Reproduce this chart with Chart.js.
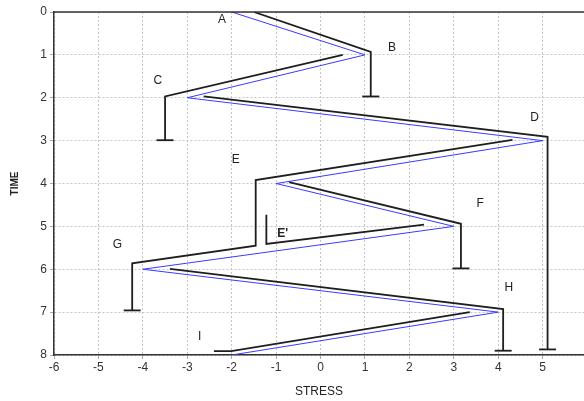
<!DOCTYPE html>
<html>
<head>
<meta charset="utf-8">
<script src="https://cdn.jsdelivr.net/npm/chart.js@4/dist/chart.umd.min.js"></script>
<style>
html,body{margin:0;padding:0;background:#fff;overflow:hidden;}
#wrap{width:584px;height:401px;position:relative;}
</style>
</head>
<body>
<div id="wrap"><canvas id="c" width="584" height="401"></canvas></div>
<script>
// ---- data (STRESS, TIME) ----
const blueStress = [-2, 1, -3, 5, -1, 3, -4, 4, -2];
const blueTime   = [ 0, 1,  2, 3,  4, 5,  6, 7,  8];

const seg1Stress = [-1.5, 1.13, 1.13];           const seg1Time = [0, 0.93, 1.97];
const seg2Stress = [0.5, -3.5, -3.5];            const seg2Time = [1.0, 1.97, 2.99];
const seg3Stress = [-2.63, 5.11, 5.11];          const seg3Time = [1.97, 2.91, 7.87];
const seg4Stress = [4.32, -1.46, -1.46, -4.24, -4.24]; const seg4Time = [2.98, 3.92, 5.45, 5.86, 6.96];
const seg5Stress = [-0.71, 3.16, 3.16];          const seg5Time = [3.97, 4.94, 5.98];
const seg6Stress = [2.33, -1.22, -1.22];         const seg6Time = [4.96, 5.41, 4.73];
const seg7Stress = [-3.39, 4.11, 4.11];          const seg7Time = [5.99, 6.93, 7.9];
const seg8Stress = [3.36, -2.01, -2.4];          const seg8Time = [7.0, 7.91, 7.91];

const tEnded = [true, true, true, true, true, false, true, false]; // segments ending with a T bar

const labelNames  = ['A', 'B', 'C', 'D', 'E', "E'", 'F', 'G', 'H', 'I'];
const labelStress = [-2.22, 1.61, -3.66, 4.82, -1.91, -0.85, 3.59, -4.57, 4.24, -2.72];
const labelTime   = [0.19, 0.84, 1.61, 2.47, 3.45, 5.17, 4.48, 5.43, 6.43, 7.58];

const xTicks = [-6, -5, -4, -3, -2, -1, 0, 1, 2, 3, 4, 5];
const yTicks = [0, 1, 2, 3, 4, 5, 6, 7, 8];
const xMin = -6, xMax = 5.93, yMin = 0, yMax = 8;

// ---- build datasets ----
function pts(xs, ys){ return xs.map((x,i)=>({x:x, y:ys[i]})); }
const segs = [
  [seg1Stress, seg1Time],[seg2Stress, seg2Time],[seg3Stress, seg3Time],[seg4Stress, seg4Time],
  [seg5Stress, seg5Time],[seg6Stress, seg6Time],[seg7Stress, seg7Time],[seg8Stress, seg8Time]
];
const datasets = [{
  label: 'model',
  data: pts(blueStress, blueTime),
  showLine: true,
  borderColor: '#3a3aff',
  borderWidth: 1,
  pointRadius: 0,
  tension: 0
}];
segs.forEach((s, k) => {
  const n = s[0].length;
  datasets.push({
    label: 'seg' + (k+1),
    data: pts(s[0], s[1]),
    showLine: true,
    borderColor: '#1e1e1e',
    borderWidth: 1.8,
    tension: 0,
    pointStyle: 'line',
    pointRadius: s[0].map((_, i) => (tEnded[k] && i === n-1) ? 8.5 : 0),
    pointBorderWidth: 1.8,
    pointBorderColor: '#1e1e1e',
    pointHoverRadius: 0
  });
});

const FONT = "'Liberation Sans', Arial, sans-serif";

const framePlugin = {
  id: 'frame',
  afterDraw(chart){
    const {ctx, chartArea} = chart;
    ctx.save();
    ctx.strokeStyle = '#333';
    ctx.lineWidth = 1.5;
    ctx.beginPath();
    ctx.moveTo(chartArea.left, chartArea.top);
    ctx.lineTo(chartArea.right, chartArea.top);
    ctx.stroke();
    // letter labels
    const xs = chart.scales.x, ys = chart.scales.y;
    ctx.fillStyle = '#222';
    ctx.textAlign = 'center';
    ctx.textBaseline = 'middle';
    labelNames.forEach((t, i) => {
      ctx.font = (t === "E'" ? 'bold ' : '') + '12px ' + FONT;
      ctx.fillText(t, xs.getPixelForValue(labelStress[i]), ys.getPixelForValue(labelTime[i]));
    });
    ctx.restore();
  }
};

new Chart(document.getElementById('c'), {
  type: 'scatter',
  data: { datasets },
  options: {
    responsive: false,
    animation: false,
    layout: { autoPadding: false, padding: { top: 12, right: 0, bottom: 0, left: 0 } },
    plugins: { legend: { display: false }, tooltip: { enabled: false } },
    scales: {
      x: {
        type: 'linear', min: xMin, max: xMax,
        afterBuildTicks(scale){ scale.ticks = xTicks.map(v => ({value: v})); },
        afterFit(scale){ scale.height = 46; scale.paddingRight = 0; scale.paddingLeft = 0; },
        ticks: { color: '#333', font: { family: FONT, size: 12 }, padding: 1, maxRotation: 0 },
        grid: { color: '#c4c4c4', lineWidth: 1, tickLength: 4, tickColor: '#aaa' },
        border: { display: true, color: '#333', width: 1.5, dash: [2, 2] },
        title: { display: true, text: 'STRESS', color: '#222', font: { family: FONT, size: 12 }, padding: { top: 0, bottom: 2 } }
      },
      y: {
        type: 'linear', min: yMin, max: yMax, reverse: true,
        afterBuildTicks(scale){ scale.ticks = yTicks.map(v => ({value: v})); },
        afterFit(scale){ scale.width = 54; scale.paddingTop = 0; scale.paddingBottom = 0; },
        ticks: { color: '#333', font: { family: FONT, size: 12 }, padding: 3 },
        grid: { color: '#c4c4c4', lineWidth: 1, tickLength: 4, tickColor: '#aaa' },
        border: { display: true, color: '#333', width: 1.5, dash: [2, 2] },
        title: { display: true, text: 'TIME', color: '#222', font: { family: FONT, size: 10, weight: 'bold' }, padding: { top: 9, bottom: 0 } }
      }
    }
  },
  plugins: [framePlugin]
});
</script>
</body>
</html>
